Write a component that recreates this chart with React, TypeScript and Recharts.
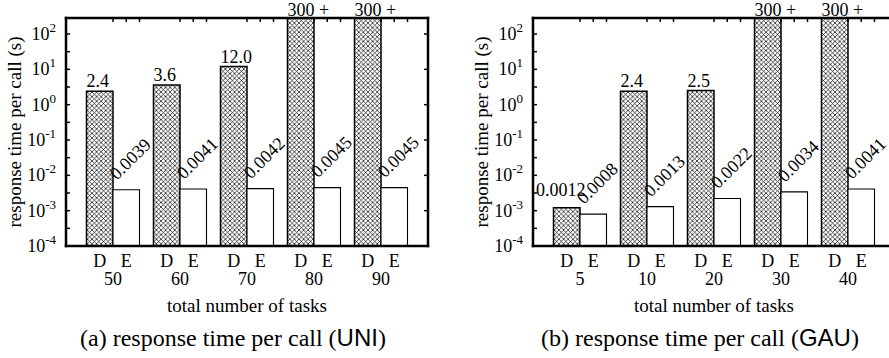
import React from 'react';
import { BarChart, Bar, XAxis, YAxis, LabelList } from 'recharts';

// (a) UNI
const uniTasks = ['50', '60', '70', '80', '90'];
const uniD = [2.4, 3.6, 12.0, 300, 300];
const uniE = [0.0039, 0.0041, 0.0042, 0.0045, 0.0045];
const uniDLabels = ['2.4', '3.6', '12.0', '300 +', '300 +'];
const uniELabels = ['0.0039', '0.0041', '0.0042', '0.0045', '0.0045'];

// (b) GAU
const gauTasks = ['5', '10', '20', '30', '40'];
const gauD = [0.0012, 2.4, 2.5, 300, 300];
const gauE = [0.0008, 0.0013, 0.0022, 0.0034, 0.0041];
const gauDLabels = ['0.0012', '2.4', '2.5', '300 +', '300 +'];
const gauELabels = ['0.0008', '0.0013', '0.0022', '0.0034', '0.0041'];

const barLetters = ['D', 'E'];
const decadeTicks = [1e-4, 1e-3, 1e-2, 1e-1, 1, 10, 100];
const halfDecadeTicks = [1e-4, 3.162e-4, 1e-3, 3.162e-3, 1e-2, 3.162e-2, 1e-1, 0.3162, 1, 3.162, 10, 31.62, 100];

const SERIF = '"Liberation Serif", "Times New Roman", serif';
const SANS = '"Liberation Sans", Arial, sans-serif';
const W = 440;
const H = 358;
const PLOT_TOP = 18;
const BAR = 26.5;
const AX = 10; // space kept for each axis box
const HATCH = 4.6;
const frame = { stroke: '#000', strokeWidth: 2.5, strokeLinecap: 'square' as const };

const GroupTick = (props: any) => {
  const { x, y, payload } = props;
  return (
    <g fontFamily={SERIF} fontSize={18} fill="#000">
      <text x={x - BAR / 2} y={y + 21} textAnchor="middle">{barLetters[0]}</text>
      <text x={x + BAR / 2} y={y + 21} textAnchor="middle">{barLetters[1]}</text>
      <text x={x} y={y + 39} textAnchor="middle">{payload.value}</text>
    </g>
  );
};

const TopTick = (props: any) => {
  const { x, y } = props;
  return (
    <g>
      {[0, BAR / 2, BAR].map((dx) => (
        <line key={dx} x1={x + dx} x2={x + dx} y1={y} y2={y + 4} stroke="#000" strokeWidth={1.5} />
      ))}
    </g>
  );
};

const LeftTick = (props: any) => {
  const { x, y, payload } = props;
  const e = Math.round(Math.log10(payload.value) * 2) / 2;
  const major = Number.isInteger(e);
  return (
    <g>
      <line x1={x} x2={x + 4} y1={y} y2={y} stroke="#000" strokeWidth={1.5} />
      {major && (
        <text x={x - 10} y={y + 6} textAnchor="end" fontFamily={SERIF} fontSize={18} fill="#000">
          10<tspan dy={-8} fontSize={13}>{e}</tspan>
        </text>
      )}
    </g>
  );
};

const RightTick = (props: any) => {
  const { x, y } = props;
  return <line x1={x} x2={x - 4} y1={y} y2={y} stroke="#000" strokeWidth={1.5} />;
};

const DLabel = (props: any) => {
  const vb = props.viewBox || props;
  const x = vb.x ?? props.x;
  const y = vb.y ?? props.y;
  const w = vb.width ?? props.width;
  const text = String(props.value);
  const small = text.startsWith('0.');
  const clipped = y < PLOT_TOP;
  const by = clipped ? PLOT_TOP - 2 : y - (small ? 12 : 4);
  return (
    <text
      x={small ? x + w / 2 - 6 : x}
      y={by}
      textAnchor={small ? 'middle' : 'start'}
      fontFamily={SERIF}
      fontSize={18}
      fill="#000"
    >
      {text}
    </text>
  );
};

const ELabel = (props: any) => {
  const vb = props.viewBox || props;
  const x = (vb.x ?? props.x) + 4;
  const y = (vb.y ?? props.y) - 9;
  return (
    <text
      x={x}
      y={y}
      transform={`rotate(-45 ${x} ${y})`}
      textAnchor="start"
      fontFamily={SERIF}
      fontSize={18}
      fill="#000"
    >
      {String(props.value)}
    </text>
  );
};

function TimeChart(p: {
  id: string;
  tasks: string[];
  d: number[];
  e: number[];
  dLabels: string[];
  eLabels: string[];
}) {
  const rows = p.tasks.map((t, i) => ({ task: t, d: p.d[i], e: p.e[i], dl: p.dLabels[i], el: p.eLabels[i] }));
  const pid = `hatch-${p.id}`;
  return (
    <BarChart
      width={W}
      height={H}
      data={rows}
      margin={{ top: 18 - AX, right: 12 - AX, bottom: 112 - AX, left: 66 - AX }}
      barGap={0}
    >
      <defs>
        <pattern id={pid} width={HATCH} height={HATCH} patternUnits="userSpaceOnUse">
          <rect width={HATCH} height={HATCH} fill="#fff" />
          <path d={`M0,0 L${HATCH},${HATCH} M${HATCH},0 L0,${HATCH}`} stroke="#000" strokeWidth={0.7} />
        </pattern>
      </defs>
      <XAxis
        xAxisId="main"
        dataKey="task"
        height={AX}
        padding={{ left: 13.5, right: 13.5 }}
        tickSize={0}
        tickMargin={0}
        tickLine={false}
        axisLine={frame}
        tick={<GroupTick />}
        interval={0}
      />
      <XAxis
        xAxisId="top"
        dataKey="task"
        orientation="top"
        height={AX}
        padding={{ left: 13.5, right: 13.5 }}
        tickSize={0}
        tickMargin={0}
        tickLine={false}
        axisLine={frame}
        tick={<TopTick />}
        interval={0}
      />
      <YAxis
        yAxisId="l"
        type="number"
        scale="log"
        domain={[1e-4, 284]}
        allowDataOverflow
        ticks={halfDecadeTicks}
        interval={0}
        width={AX}
        tickSize={0}
        tickMargin={0}
        tickLine={false}
        axisLine={frame}
        tick={<LeftTick />}
      />
      <YAxis
        yAxisId="r"
        orientation="right"
        type="number"
        scale="log"
        domain={[1e-4, 284]}
        allowDataOverflow
        ticks={decadeTicks}
        interval={0}
        width={AX}
        tickSize={0}
        tickMargin={0}
        tickLine={false}
        axisLine={frame}
        tick={<RightTick />}
      />
      <Bar xAxisId="main" yAxisId="l" dataKey="d" barSize={BAR} fill={`url(#${pid})`} stroke="#000" strokeWidth={1.5} isAnimationActive={false}>
        <LabelList dataKey="dl" content={<DLabel />} />
      </Bar>
      <Bar xAxisId="main" yAxisId="l" dataKey="e" barSize={BAR} fill="#fff" stroke="#000" strokeWidth={1.1} isAnimationActive={false}>
        <LabelList dataKey="el" content={<ELabel />} />
      </Bar>
    </BarChart>
  );
}

function Titles(p: { ox: number; letter: string; dist: string }) {
  const { ox } = p;
  return (
    <g fontFamily={SERIF} fill="#000">
      <text transform={`translate(${ox + 21},132) rotate(-90)`} textAnchor="middle" fontSize={19}>
        response time per call (s)
      </text>
      <text x={ox + 247} y={312} textAnchor="middle" fontSize={19}>
        total number of tasks
      </text>
      <text x={ox + 233} y={346} textAnchor="middle" fontSize={24}>
        ({p.letter}) response time per call (<tspan fontFamily={SANS}>{p.dist}</tspan>)
      </text>
    </g>
  );
}

export default function App() {
  return (
    <div style={{ position: 'absolute', left: 0, top: 0, width: 889, height: 358, overflow: 'hidden', background: '#fff' }}>
      <div style={{ position: 'absolute', left: 0, top: 0 }}>
        <TimeChart id="uni" tasks={uniTasks} d={uniD} e={uniE} dLabels={uniDLabels} eLabels={uniELabels} />
      </div>
      <div style={{ position: 'absolute', left: 467, top: 0 }}>
        <TimeChart id="gau" tasks={gauTasks} d={gauD} e={gauE} dLabels={gauDLabels} eLabels={gauELabels} />
      </div>
      <svg width={889} height={358} style={{ position: 'absolute', left: 0, top: 0, pointerEvents: 'none' }}>
        <Titles ox={0} letter="a" dist="UNI" />
        <Titles ox={467} letter="b" dist="GAU" />
      </svg>
    </div>
  );
}
